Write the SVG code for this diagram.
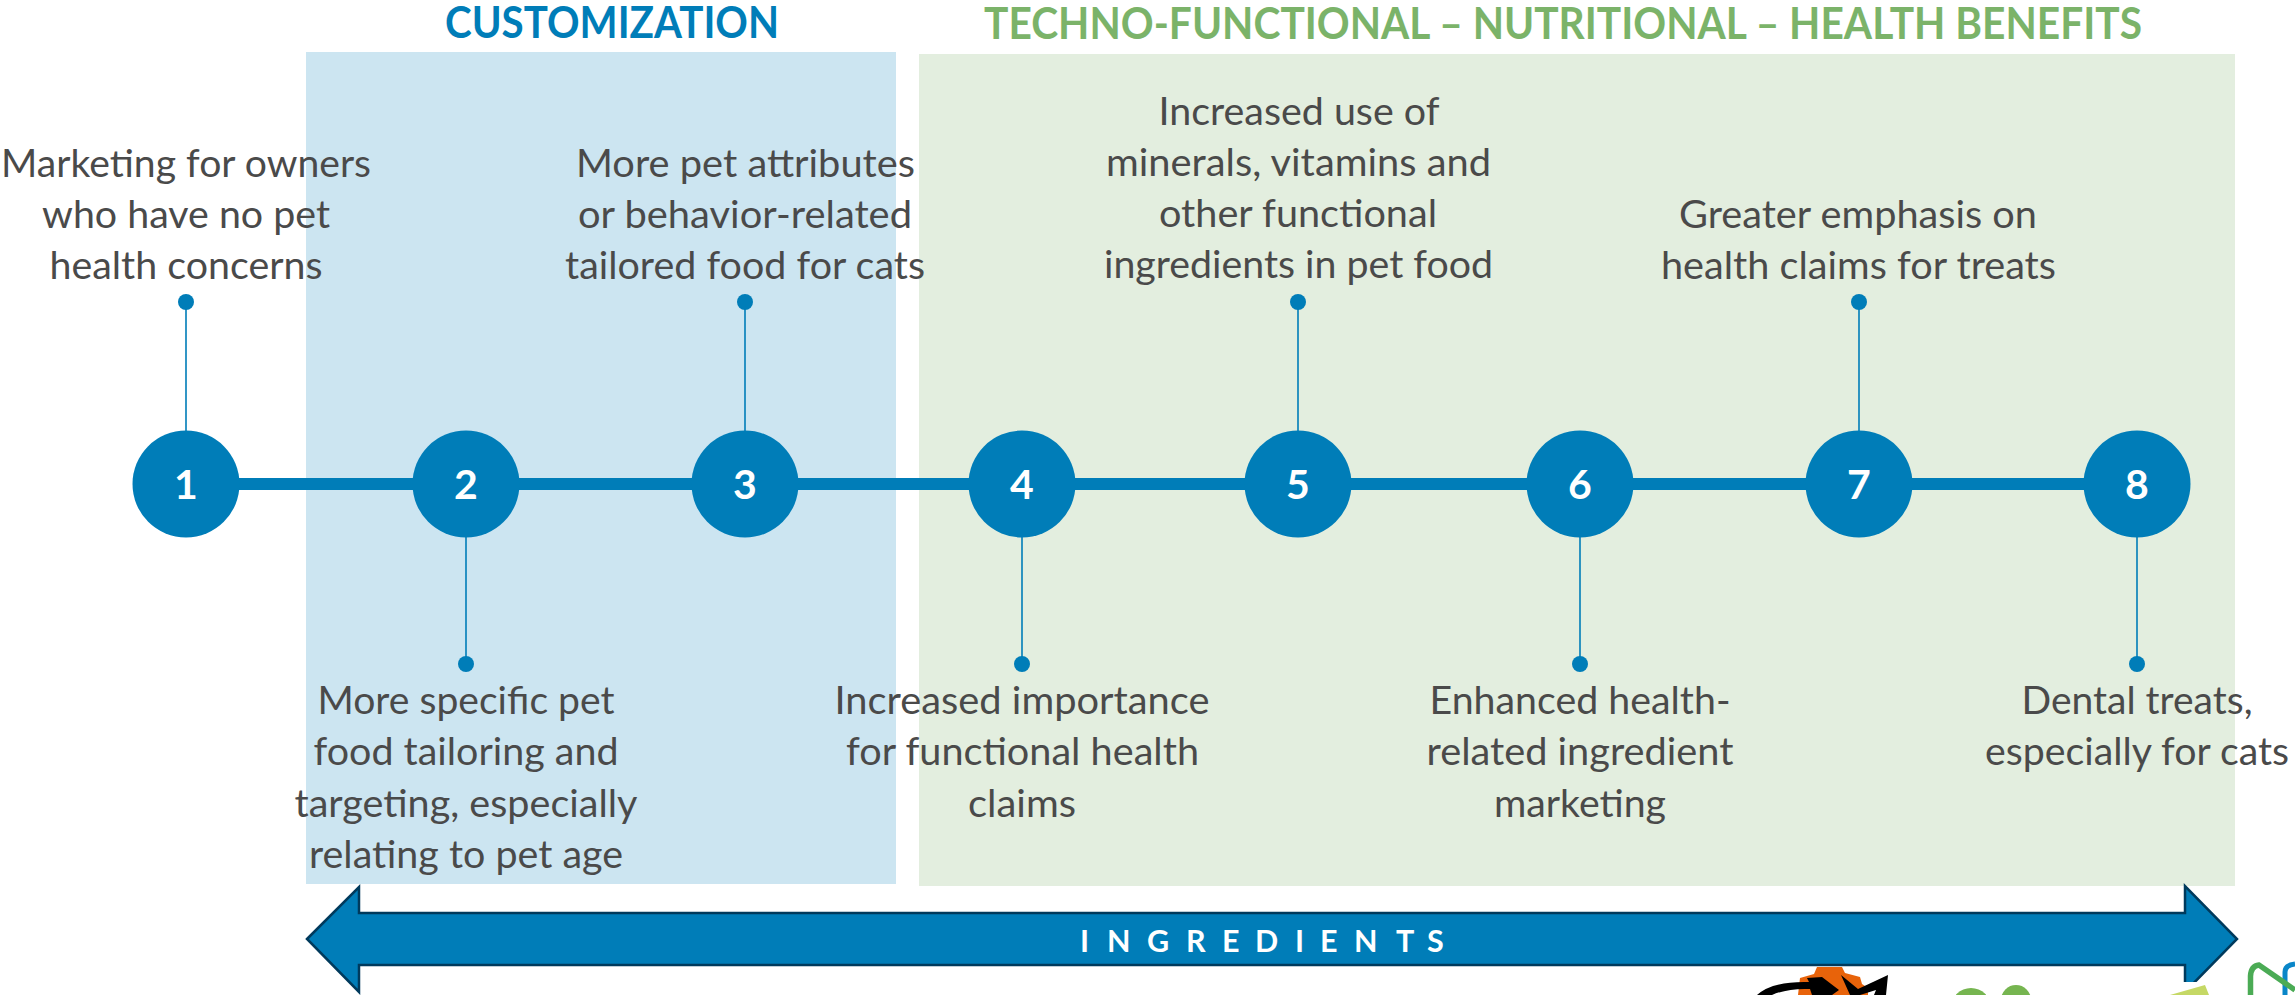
<svg xmlns="http://www.w3.org/2000/svg" width="2295" height="995" viewBox="0 0 2295 995">
<style>
text{font-family:"Lato","Carlito","Liberation Sans",sans-serif;text-anchor:middle}
.t{font-size:37.8px;fill:#4a4a4a}
.h{font-size:43px;font-weight:700}
.n{font-size:41px;font-weight:700;fill:#fff}
.c{fill:#007db8}
.s{stroke:#007db8;stroke-width:1.6;fill:none}
</style>
<rect id="band-customization" x="306" y="52" width="590" height="832" fill="#cce5f1"/>
<rect id="band-benefits" x="919" y="54" width="1316" height="832" fill="#e3eedf"/>
<text id="title-customization" class="h" x="612" y="38" fill="#007db8" textLength="334" lengthAdjust="spacingAndGlyphs">CUSTOMIZATION</text>
<text id="title-benefits" class="h" x="1563" y="39" fill="#7bb369" textLength="1158" lengthAdjust="spacingAndGlyphs">TECHNO-FUNCTIONAL – NUTRITIONAL – HEALTH BENEFITS</text>
<g id="logos">
<path fill="#e8630a" d="M1817,967L1842,967L1845,973L1860,977L1862,984L1868,988L1868,995L1798,995L1800,978L1814,974Z"/>
<path fill="#000" d="M1757,995Q1772,981 1809,982L1807,978L1822,977L1839,990L1832,995L1812,995L1810,989Q1788,988 1772,995ZM1841,975L1858,989L1888,975L1886,995L1874,995L1876,990L1860,995L1850,995Z"/>
<circle cx="1971" cy="1008" r="20" fill="#76b550"/>
<circle cx="2016" cy="1000" r="15" fill="#76b550"/>
</g>
<g id="connectors">
<line x1="186" y1="484" x2="2137" y2="484" stroke="#007db8" stroke-width="12"/>
<path class="s" d="M186,302V431M466,537V664M745,302V431M1022,537V664M1298,302V431M1580,537V664M1859,302V431M2137,537V664"/>
</g>
<g id="arrow-ingredients">
<path fill="#007db8" stroke="#003a5c" stroke-width="2.5" d="M307,939L359,887V913H2185V886L2237,939L2185,992V965H359V992Z"/>
<text x="1080 1107 1147 1186 1222 1255 1295 1320 1354 1396 1427" y="952" font-size="30.500px" font-weight="700" fill="#fff" style="text-anchor:start">INGREDIENTS</text>
</g>
<g id="logos-front">
<rect x="2183" y="982" width="112" height="13" fill="#fff"/>
<path fill="#c5d865" d="M2170,995L2205,985L2209,995Z"/>
<path fill="none" stroke="#0a86c8" stroke-width="5" d="M2285,995V972Q2285,965 2295,964"/>
<path fill="none" stroke="#4bab55" stroke-width="5.500" d="M2250.500,995V976Q2251,966 2259,965L2295,990"/>
</g>
<g id="node-1"><circle class="c" cx="186" cy="484" r="53.500"/><circle class="c" cx="186" cy="302" r="8"/><text class="n" x="186" y="499">1</text>
<text class="t" x="186" y="177" textLength="370" lengthAdjust="spacingAndGlyphs">Marketing for owners</text>
<text class="t" x="186" y="228" textLength="288" lengthAdjust="spacingAndGlyphs">who have no pet</text>
<text class="t" x="186" y="279" textLength="273" lengthAdjust="spacingAndGlyphs">health concerns</text></g>
<g id="node-2"><circle class="c" cx="466" cy="484" r="53.500"/><circle class="c" cx="466" cy="664" r="8"/><text class="n" x="466" y="499">2</text>
<text class="t" x="466" y="714" textLength="297" lengthAdjust="spacingAndGlyphs">More specific pet</text>
<text class="t" x="466" y="765" textLength="305" lengthAdjust="spacingAndGlyphs">food tailoring and</text>
<text class="t" x="466" y="816.500" textLength="343" lengthAdjust="spacingAndGlyphs">targeting, especially</text>
<text class="t" x="466" y="867.500" textLength="314" lengthAdjust="spacingAndGlyphs">relating to pet age</text></g>
<g id="node-3"><circle class="c" cx="745" cy="484" r="53.500"/><circle class="c" cx="745" cy="302" r="8"/><text class="n" x="745" y="499">3</text>
<text class="t" x="745.500" y="177" textLength="339" lengthAdjust="spacingAndGlyphs">More pet attributes</text>
<text class="t" x="745" y="228" textLength="334" lengthAdjust="spacingAndGlyphs">or behavior-related</text>
<text class="t" x="745" y="279" textLength="360" lengthAdjust="spacingAndGlyphs">tailored food for cats</text></g>
<g id="node-4"><circle class="c" cx="1022" cy="484" r="53.500"/><circle class="c" cx="1022" cy="664" r="8"/><text class="n" x="1022" y="499">4</text>
<text class="t" x="1022" y="714" textLength="375" lengthAdjust="spacingAndGlyphs">Increased importance</text>
<text class="t" x="1022.500" y="765" textLength="353" lengthAdjust="spacingAndGlyphs">for functional health</text>
<text class="t" x="1022" y="816.500" textLength="108" lengthAdjust="spacingAndGlyphs">claims</text></g>
<g id="node-5"><circle class="c" cx="1298" cy="484" r="53.500"/><circle class="c" cx="1298" cy="302" r="8"/><text class="n" x="1298" y="499">5</text>
<text class="t" x="1299" y="125" textLength="281" lengthAdjust="spacingAndGlyphs">Increased use of</text>
<text class="t" x="1298.500" y="176" textLength="385" lengthAdjust="spacingAndGlyphs">minerals, vitamins and</text>
<text class="t" x="1298" y="227" textLength="278" lengthAdjust="spacingAndGlyphs">other functional</text>
<text class="t" x="1298.500" y="278" textLength="389" lengthAdjust="spacingAndGlyphs">ingredients in pet food</text></g>
<g id="node-6"><circle class="c" cx="1580" cy="484" r="53.500"/><circle class="c" cx="1580" cy="664" r="8"/><text class="n" x="1580" y="499">6</text>
<text class="t" x="1580" y="714" textLength="301" lengthAdjust="spacingAndGlyphs">Enhanced health-</text>
<text class="t" x="1580" y="765" textLength="307" lengthAdjust="spacingAndGlyphs">related ingredient</text>
<text class="t" x="1580" y="816.500" textLength="172" lengthAdjust="spacingAndGlyphs">marketing</text></g>
<g id="node-7"><circle class="c" cx="1859" cy="484" r="53.500"/><circle class="c" cx="1859" cy="302" r="8"/><text class="n" x="1859" y="499">7</text>
<text class="t" x="1858" y="228" textLength="358" lengthAdjust="spacingAndGlyphs">Greater emphasis on</text>
<text class="t" x="1858.500" y="279" textLength="395" lengthAdjust="spacingAndGlyphs">health claims for treats</text></g>
<g id="node-8"><circle class="c" cx="2137" cy="484" r="53.500"/><circle class="c" cx="2137" cy="664" r="8"/><text class="n" x="2137" y="499">8</text>
<text class="t" x="2137" y="714" textLength="231" lengthAdjust="spacingAndGlyphs">Dental treats,</text>
<text class="t" x="2137" y="765" textLength="304" lengthAdjust="spacingAndGlyphs">especially for cats</text></g>
</svg>
